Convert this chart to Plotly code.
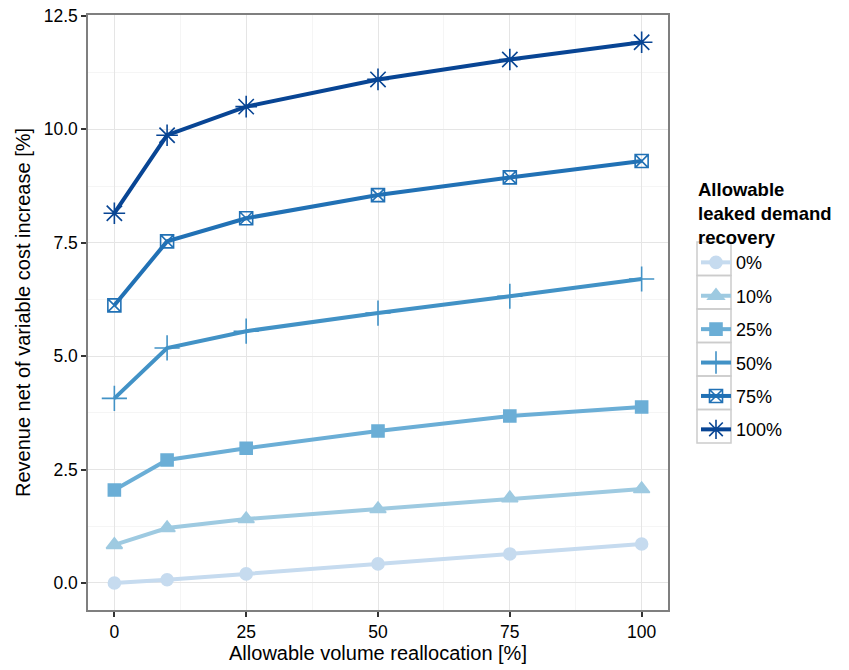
import plotly.graph_objects as go

x_vals = [0, 10, 25, 50, 75, 100]
series_names = ["0%", "10%", "25%", "50%", "75%", "100%"]
series_values = {
    "0%":   [0.00, 0.07, 0.20, 0.42, 0.64, 0.86],
    "10%":  [0.84, 1.21, 1.41, 1.63, 1.87, 2.07],
    "25%":  [2.05, 2.71, 2.97, 3.35, 3.68, 3.88],
    "50%":  [4.07, 5.18, 5.55, 5.95, 6.32, 6.70],
    "75%":  [6.12, 7.53, 8.04, 8.55, 8.94, 9.30],
    "100%": [8.15, 9.87, 10.50, 11.10, 11.54, 11.92],
}
colors = ["#c6dbef", "#9ecae1", "#6baed6", "#4292c6", "#2171b5", "#084594"]
symbols = ["circle", "triangle-up", "square", "cross-thin-open", "square-x-open", "asterisk-open"]
sizes = [12, 14, 12, 18, 13, 18]

x_ticks = [0, 25, 50, 75, 100]
y_ticks = [0, 2.5, 5.0, 7.5, 10.0, 12.5]
y_tick_labels = ["0.0", "2.5", "5.0", "7.5", "10.0", "12.5"]

FONT = "Liberation Sans, Arial, Helvetica, sans-serif"

# The page body margin is removed (post_script), so figure pixels = window pixels.
W, H = 849, 670
L, R, T, B = 88, 668, 15, 610


def px_x(p):
    return (p - L) / (R - L)


def px_y(p):
    return (B - p) / (B - T)


fig = go.Figure()
for i, name in enumerate(series_names):
    fig.add_trace(go.Scatter(
        x=x_vals, y=series_values[name], name=name, mode="lines+markers",
        line=dict(color=colors[i], width=4),
        marker=dict(symbol=symbols[i], size=sizes[i], color=colors[i],
                    line=dict(color=colors[i], width=1.6)),
        legendgroup=name,
    ))

# legend key boxes (ggplot-style grey frames)
shapes = []
box_top, box_h = 242, 33.5
for i in range(len(series_names)):
    y0 = box_top + i * box_h
    shapes.append(dict(type="rect", xref="paper", yref="paper",
                       x0=px_x(697), x1=px_x(731), y0=px_y(y0 + box_h), y1=px_y(y0),
                       line=dict(color="#cccccc", width=1.5), fillcolor="rgba(0,0,0,0)",
                       layer="below"))

fig.update_layout(
    width=W, height=H,
    margin=dict(l=L, r=W - R, t=T, b=H - B, autoexpand=False),
    paper_bgcolor="white", plot_bgcolor="white",
    font=dict(family=FONT, size=17.5, color="black"),
    shapes=shapes,
    legend=dict(
        title=dict(text="<b>Allowable<br>leaked demand<br>recovery</b>", font=dict(size=18.5)),
        x=px_x(696), y=px_y(172), xanchor="left", yanchor="top",
        traceorder="grouped", tracegroupgap=7,
        font=dict(size=18), itemwidth=30, bgcolor="rgba(0,0,0,0)",
    ),
)
fig.update_xaxes(
    range=[-5, 105], tickvals=x_ticks, ticktext=[str(v) for v in x_ticks],
    ticks="outside", ticklen=5, tickcolor="#333333", tickwidth=1.5,
    showgrid=True, gridcolor="#e5e5e5", gridwidth=1,
    minor=dict(tickvals=[12.5, 37.5, 62.5, 87.5], showgrid=True, gridcolor="#f5f5f5", gridwidth=1),
    showline=True, linecolor="#7f7f7f", linewidth=1.5, mirror=True,
    zeroline=False, automargin=False,
    title=dict(text="Allowable volume reallocation [%]", font=dict(size=20), standoff=3),
    tickfont=dict(size=17.5),
)
fig.update_yaxes(
    range=[-0.596, 12.52], tickvals=y_ticks, ticktext=y_tick_labels,
    ticks="outside", ticklen=5, tickcolor="#333333", tickwidth=1.5,
    showgrid=True, gridcolor="#e5e5e5", gridwidth=1,
    minor=dict(tickvals=[1.25, 3.75, 6.25, 8.75, 11.25], showgrid=True, gridcolor="#f5f5f5", gridwidth=1),
    showline=True, linecolor="#7f7f7f", linewidth=1.5, mirror=True,
    zeroline=False, automargin=False,
    title=dict(text="Revenue net of variable cost increase [%]", font=dict(size=20), standoff=8),
    tickfont=dict(size=17.5),
)

fig.write_html(
    "out.html",
    config={"displayModeBar": False},
    post_script="document.body.style.margin='0';document.body.style.overflow='hidden';",
)
